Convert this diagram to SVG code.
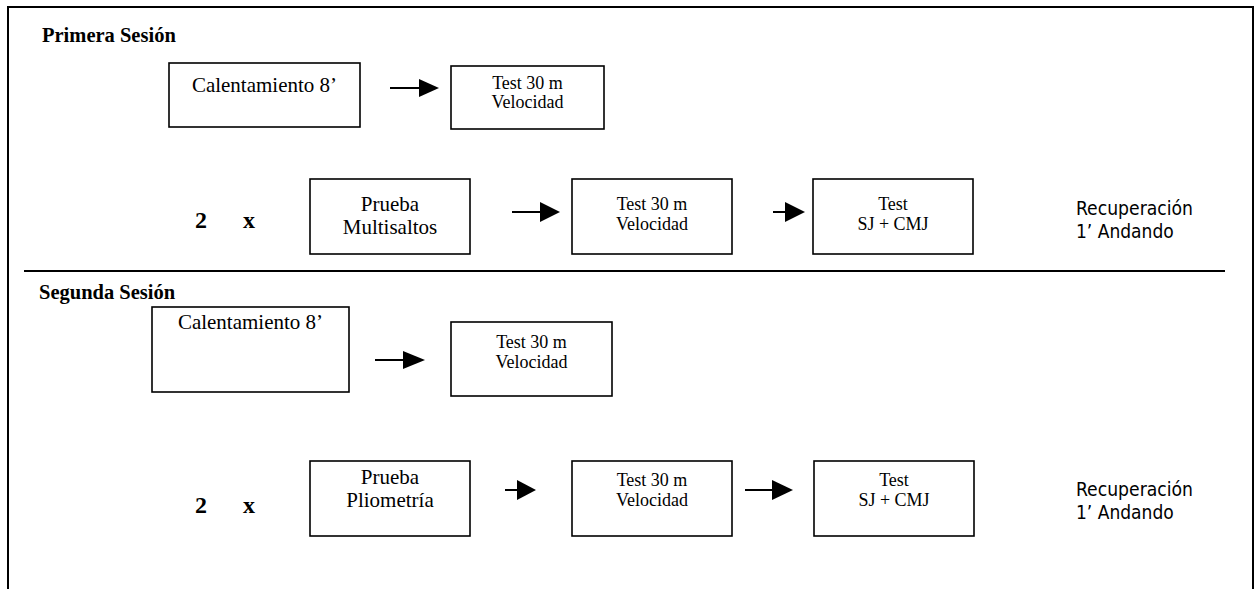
<svg xmlns="http://www.w3.org/2000/svg" width="1260" height="589" viewBox="0 0 1260 589">
<style>
.frame{fill:none;stroke:#000;stroke-width:2}
.box{fill:#fff;stroke:#000;stroke-width:1.6}
.t{font-family:"Liberation Serif","Times New Roman",serif;fill:#000;text-anchor:middle}
.big{font-size:21px}
.sm{font-size:18px}
.title{font-family:"Liberation Serif","Times New Roman",serif;font-weight:bold;font-size:20.5px;fill:#000}
.rep{font-family:"Liberation Serif","Times New Roman",serif;font-weight:bold;font-size:24px;fill:#000}
.rec{font-family:"DejaVu Sans Condensed","DejaVu Sans",sans-serif;font-size:19px;fill:#000}
.conn{stroke:#000;stroke-width:2;fill:none}
.head{fill:#000}
</style>
<rect width="1260" height="589" fill="#fff"/>
<g id="frame">
<path class="frame" d="M8,589 V7 H1253 V589"/>
<line x1="24" y1="271" x2="1225" y2="271" stroke="#000" stroke-width="2"/>
</g>
<g id="labels">
<text class="title" x="42" y="42">Primera Sesión</text>
<text class="title" x="39" y="299">Segunda Sesión</text>
<text class="rep" x="195" y="228">2</text>
<text class="rep" x="243" y="228">x</text>
<text class="rep" x="195" y="513">2</text>
<text class="rep" x="243" y="513">x</text>
<text class="rec" x="1076" y="215" textLength="117" lengthAdjust="spacingAndGlyphs">Recuperación</text>
<text class="rec" x="1076" y="238">1’ Andando</text>
<text class="rec" x="1076" y="496" textLength="117" lengthAdjust="spacingAndGlyphs">Recuperación</text>
<text class="rec" x="1076" y="519">1’ Andando</text>
</g>
<g id="n1"><rect class="box" x="169" y="63" width="191" height="64"/><text class="t big" x="264.5" y="92">Calentamiento 8’</text></g>
<g id="n2"><rect class="box" x="451" y="66" width="153" height="63"/><text class="t sm" x="527.5" y="89">Test 30 m</text><text class="t sm" x="527.5" y="108">Velocidad</text></g>
<g id="n3"><rect class="box" x="310" y="179" width="160" height="75"/><text class="t big" x="390" y="211">Prueba</text><text class="t big" x="390" y="234">Multisaltos</text></g>
<g id="n4"><rect class="box" x="572" y="179" width="160" height="75"/><text class="t sm" x="652" y="210">Test 30 m</text><text class="t sm" x="652" y="230">Velocidad</text></g>
<g id="n5"><rect class="box" x="813" y="179" width="160" height="75"/><text class="t sm" x="893" y="210">Test</text><text class="t sm" x="893" y="230">SJ + CMJ</text></g>
<g id="n6"><rect class="box" x="152" y="307" width="197" height="85"/><text class="t big" x="250.5" y="329">Calentamiento 8’</text></g>
<g id="n7"><rect class="box" x="451" y="322" width="161" height="74"/><text class="t sm" x="531.5" y="348">Test 30 m</text><text class="t sm" x="531.5" y="368">Velocidad</text></g>
<g id="n8"><rect class="box" x="310" y="461" width="160" height="75"/><text class="t big" x="390" y="484">Prueba</text><text class="t big" x="390" y="507">Pliometría</text></g>
<g id="n9"><rect class="box" x="572" y="461" width="160" height="75"/><text class="t sm" x="652" y="486">Test 30 m</text><text class="t sm" x="652" y="506">Velocidad</text></g>
<g id="n10"><rect class="box" x="814" y="461" width="160" height="75"/><text class="t sm" x="894" y="486">Test</text><text class="t sm" x="894" y="506">SJ + CMJ</text></g>
<g id="connectors">
<line class="conn" x1="390" y1="88" x2="421" y2="88"/><polygon class="head" points="419,79 439,88 419,97"/>
<line class="conn" x1="512" y1="212" x2="542" y2="212"/><polygon class="head" points="540,202 560,212 540,222"/>
<line class="conn" x1="773" y1="212" x2="787" y2="212"/><polygon class="head" points="785,202 805,212 785,222"/>
<line class="conn" x1="375" y1="360" x2="405" y2="360"/><polygon class="head" points="403,351 425,360 403,369"/>
<line class="conn" x1="505" y1="490" x2="519" y2="490"/><polygon class="head" points="517,480 536,490 517,500"/>
<line class="conn" x1="745" y1="490" x2="774" y2="490"/><polygon class="head" points="772,480 793,490 772,500"/>
</g>
</svg>
